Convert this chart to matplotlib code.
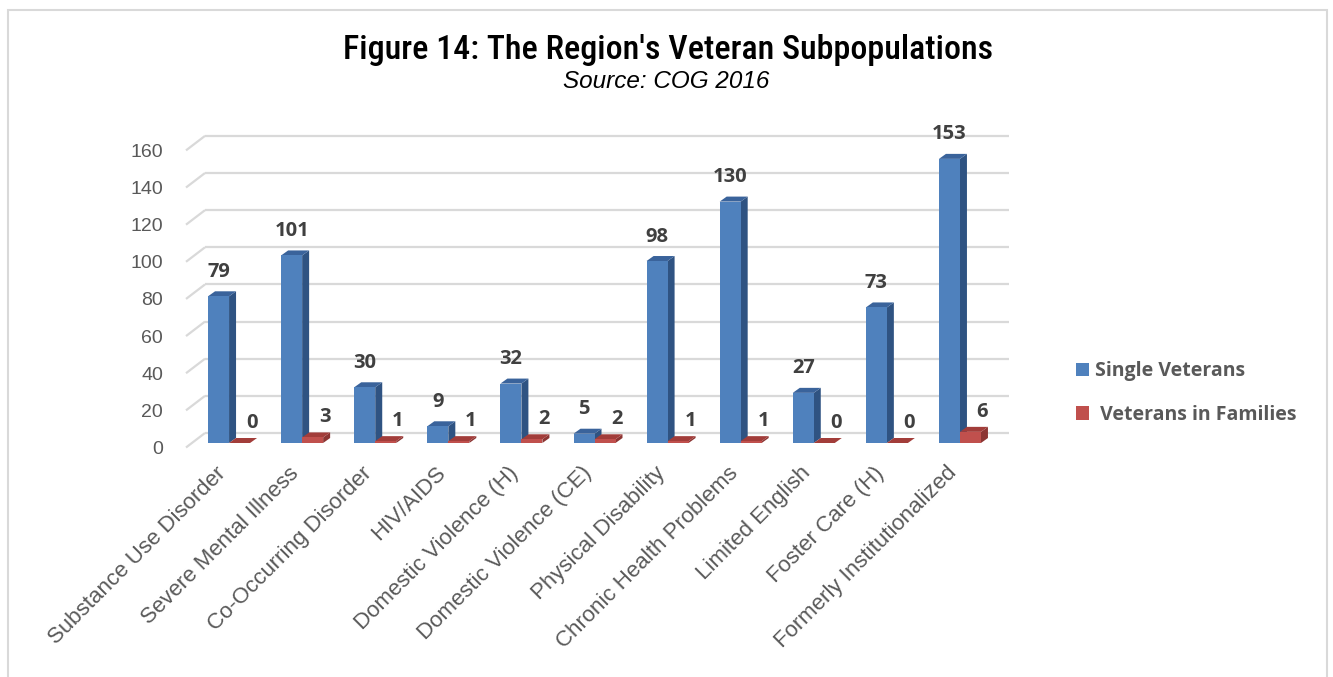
import matplotlib
matplotlib.use("Agg")
import matplotlib.pyplot as plt
from matplotlib import font_manager
from matplotlib.patches import Polygon, Patch, Rectangle
from matplotlib.transforms import ScaledTranslation

# ---- data -------------------------------------------------------------
categories = [
    "Substance Use Disorder", "Severe Mental Illness", "Co-Occurring Disorder",
    "HIV/AIDS", "Domestic Violence (H)", "Domestic Violence (CE)",
    "Physical Disability", "Chronic Health Problems", "Limited English",
    "Foster Care (H)", "Formerly Institutionalized",
]
single_veterans = [79, 101, 30, 9, 32, 5, 98, 130, 27, 73, 153]
veterans_in_families = [0, 3, 1, 1, 2, 2, 1, 1, 0, 0, 6]
series_names = ["Single Veterans", " Veterans in Families"]
y_ticks = [0, 20, 40, 60, 80, 100, 120, 140, 160]

title = "Figure 14: The Region's Veteran Subpopulations"
subtitle = "Source: COG 2016"


def pick_font(*names):
    available = {f.name for f in font_manager.fontManager.ttflist}
    for n in names:
        if n in available:
            return n
    return "DejaVu Sans"


NARROW = pick_font("Liberation Sans Narrow", "Roboto Condensed", "Liberation Sans")
BODY = pick_font("Liberation Sans", "Arial", "DejaVu Sans")
BOLD = pick_font("Open Sans", "Liberation Sans")

# ---- layout (pixels) ---------------------------------------------------
W, H, DPI = 1333, 677, 100
AX_L, AX_R = 192.5, 996.5      # plot plane, left/right
AX_BASE = 443.0                # value 0 on the bar front plane
PX_PER_UNIT = 1.857            # vertical pixels per value unit
Y_MAX = 160

fig = plt.figure(figsize=(W / DPI, H / DPI), dpi=DPI)
fig.patch.set_facecolor("white")
ax = fig.add_axes([AX_L / W, (H - AX_BASE) / H, (AX_R - AX_L) / W,
                   Y_MAX * PX_PER_UNIT / H])
ax.set_facecolor("none")
n = len(categories)
ax.set_xlim(-0.5, n - 0.5)
ax.set_ylim(0, Y_MAX)
for s in ax.spines.values():
    s.set_visible(False)

px_x = (AX_R - AX_L) / n        # pixels per category unit


def dx(px):
    return px / px_x


def dy(px):
    return px / PX_PER_UNIT


# pseudo-3D depth offsets
BAR_DX, BAR_DY = dx(7), dy(5)          # bar depth
WALL_DX, WALL_DY = dx(12.5), dy(10)    # back wall relative to bar plane
FRONT_DX, FRONT_DY = dx(-6.5), dy(-4.5)  # front floor edge

GRID = "#D9D9D9"
x0, x1 = -0.5, n - 0.5
for t in y_ticks:
    ax.plot([x0 + WALL_DX, x1 + WALL_DX], [t + WALL_DY, t + WALL_DY],
            color=GRID, lw=1.6, zorder=1, clip_on=False, solid_capstyle="butt")
    ax.plot([x0 + FRONT_DX, x0 + WALL_DX], [t + FRONT_DY, t + WALL_DY],
            color=GRID, lw=1.6, zorder=1, clip_on=False, solid_capstyle="butt")

bar_w = dx(21)
BLUE = ("#4F81BD", "#3A639B", "#2F5382")   # front, top, side
RED = ("#C0504D", "#A23D3A", "#8C3533")


def draw_series(lefts, values, colors, z):
    front, top, side = colors
    for xl, v in zip(lefts, values):
        xr = xl + bar_w
        ax.add_patch(Polygon([(xr, 0), (xr + BAR_DX, BAR_DY),
                              (xr + BAR_DX, v + BAR_DY), (xr, v)],
                             closed=True, fc=side, ec="none", zorder=z,
                             clip_on=False))
        ax.add_patch(Polygon([(xl, v), (xl + BAR_DX, v + BAR_DY),
                              (xr + BAR_DX, v + BAR_DY), (xr, v)],
                             closed=True, fc=top, ec="none", zorder=z,
                             clip_on=False))
    ax.bar(lefts, values, width=bar_w, align="edge", color=front,
           edgecolor="none", zorder=z + 0.05, clip_on=False)


idx = list(range(n))
blue_left = [i - bar_w for i in idx]
red_left = [i for i in idx]
draw_series(blue_left, single_veterans, BLUE, 3)
draw_series(red_left, veterans_in_families, RED, 3.2)

# value labels
LABEL_C = "#404040"
for i, v in enumerate(single_veterans):
    ax.annotate(str(v), (i - bar_w / 2, v), xytext=(0, 24.5 * 0.72),
                textcoords="offset points", ha="center", va="center",
                fontsize=14.5, fontweight="bold", family=BOLD, color=LABEL_C,
                annotation_clip=False, zorder=5)
for i, v in enumerate(veterans_in_families):
    ax.annotate(str(v), (i + bar_w / 2, v), xytext=(12 * 0.72, 20 * 0.72),
                textcoords="offset points", ha="center", va="center",
                fontsize=14.5, fontweight="bold", family=BOLD, color=LABEL_C,
                annotation_clip=False, zorder=5)

# value axis labels
ax.set_yticks(y_ticks)
ax.tick_params(axis="y", length=0, pad=29.5 * 0.72, labelsize=14,
               labelcolor="#595959")
shift = ScaledTranslation(0, -4.5 / DPI, fig.dpi_scale_trans)
for lbl in ax.get_yticklabels():
    lbl.set_fontfamily(BODY)
    lbl.set_transform(lbl.get_transform() + shift)

# category labels
ax.set_xticks(idx)
ax.set_xticklabels(categories)
ax.tick_params(axis="x", length=0, pad=27 * 0.72, labelsize=16,
               labelcolor="#595959")
xshift = ScaledTranslation(-6 / DPI, 0, fig.dpi_scale_trans)
for lbl in ax.get_xticklabels():
    lbl.set_rotation(45)
    lbl.set_ha("right")
    lbl.set_va("center")
    lbl.set_rotation_mode("anchor")
    lbl.set_fontfamily(BODY)
    lbl.set_transform(lbl.get_transform() + xshift)

# legend
handles = [Patch(fc=BLUE[0], ec="none"), Patch(fc=RED[0], ec="none")]
fig.legend(handles, series_names, loc="center left",
           bbox_to_anchor=(1076 / W, (H - 393) / H), frameon=False,
           prop={"family": BOLD, "weight": "bold", "size": 14},
           labelcolor="#595959", handlelength=0.67, handleheight=0.67,
           handletextpad=0.3, labelspacing=1.22, borderpad=0, borderaxespad=0)

# titles
fig.text(668 / W, (H - 50) / H, title, ha="center", va="center",
         fontsize=24.5, family=NARROW, fontweight=500, color="black")
fig.text(666 / W, (H - 82) / H, subtitle, ha="center", va="center",
         fontsize=17.5, family=BODY, style="italic", color="black")

# outer frame
fig.add_artist(Rectangle((8 / W, -0.02), (1327 - 8) / W, (H - 10) / H + 0.02,
                         transform=fig.transFigure, fill=False,
                         ec="#D9D9D9", lw=1.5))

fig.savefig("out.png", dpi=DPI)
